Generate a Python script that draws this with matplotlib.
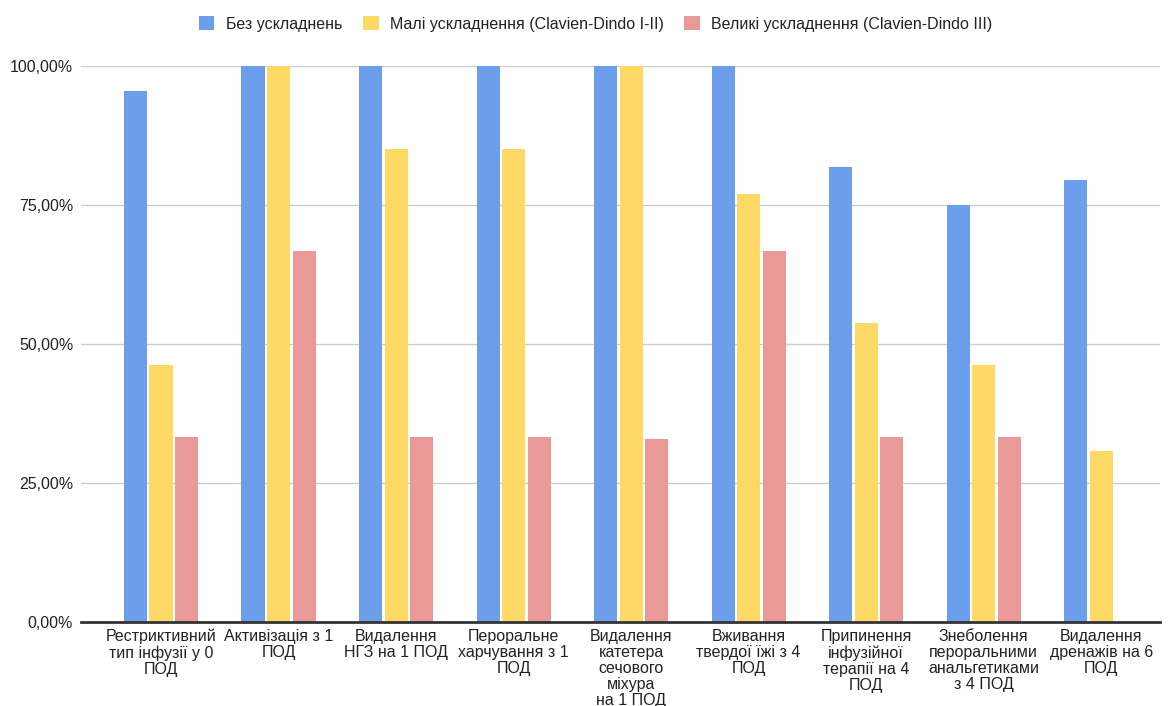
import matplotlib
matplotlib.use("Agg")
import matplotlib.pyplot as plt
import numpy as np
from matplotlib.ticker import FuncFormatter

plt.rcParams['font.family'] = ['Liberation Sans', 'DejaVu Sans']

categories = [
    "Рестриктивний\nтип інфузії у 0\nПОД",
    "Активізація з 1\nПОД",
    "Видалення\nНГЗ на 1 ПОД",
    "Пероральне\nхарчування з 1\nПОД",
    "Видалення\nкатетера\nсечового\nміхура\nна 1 ПОД",
    "Вживання\nтвердої їжі з 4\nПОД",
    "Припинення\nінфузійної\nтерапії на 4\nПОД",
    "Знеболення\nпероральними\nанальгетиками\nз 4 ПОД",
    "Видалення\nдренажів на 6\nПОД",
]
series_names = [
    "Без ускладнень",
    "Малі ускладнення (Clavien-Dindo I-II)",
    "Великі ускладнення (Clavien-Dindo III)",
]
no_complications = [95.5, 100, 100, 100, 100, 100, 81.8, 75.0, 79.5]
minor_complications = [46.2, 100, 85.0, 85.0, 100, 76.9, 53.8, 46.2, 30.8]
major_complications = [33.3, 66.7, 33.3, 33.3, 33.0, 66.7, 33.3, 33.3, 0.0]
y_ticks = [0, 25, 50, 75, 100]

colors = ["#6d9eeb", "#ffd966", "#ea9999"]
text_color = "#222222"

fig = plt.figure(figsize=(11.7, 7.06), dpi=100)
ax = fig.add_axes([0.0692, 0.119, 0.9222, 0.7875])

x = np.arange(len(categories))
width = 0.196
step = 0.217
for i, (vals, name, c) in enumerate(zip(
        [no_complications, minor_complications, major_complications],
        series_names, colors)):
    ax.bar(x + (i - 1) * step, vals, width=width, color=c, label=name,
           clip_on=False, zorder=3)

ax.set_xlim(-0.681, 8.5)
ax.set_ylim(0, 100)
ax.set_yticks(y_ticks)
ax.yaxis.set_major_formatter(FuncFormatter(lambda v, p: f"{v:.2f}%".replace(".", ",")))
ax.grid(axis="y", color="#cccccc", linewidth=1, zorder=0)
ax.set_axisbelow(True)
for s in ["top", "right", "left"]:
    ax.spines[s].set_visible(False)
ax.spines["bottom"].set_color("#333333")
ax.spines["bottom"].set_linewidth(2)
ax.spines["bottom"].set_zorder(4)

ax.set_xticks(x)
ax.set_xticklabels(categories, fontsize=11.5, linespacing=1.09, color=text_color)
ax.tick_params(axis="x", length=0, pad=5)
ax.tick_params(axis="y", length=0, pad=5.6, labelsize=11.5, labelcolor=text_color)

fig.legend(loc="center", bbox_to_anchor=(0.509, 0.966), ncol=3, frameon=False,
           fontsize=11.5, handlelength=1.0, handleheight=1.0, columnspacing=1.3,
           handletextpad=0.69, labelcolor=text_color)

fig.savefig("out.png", dpi=100, facecolor="white")
